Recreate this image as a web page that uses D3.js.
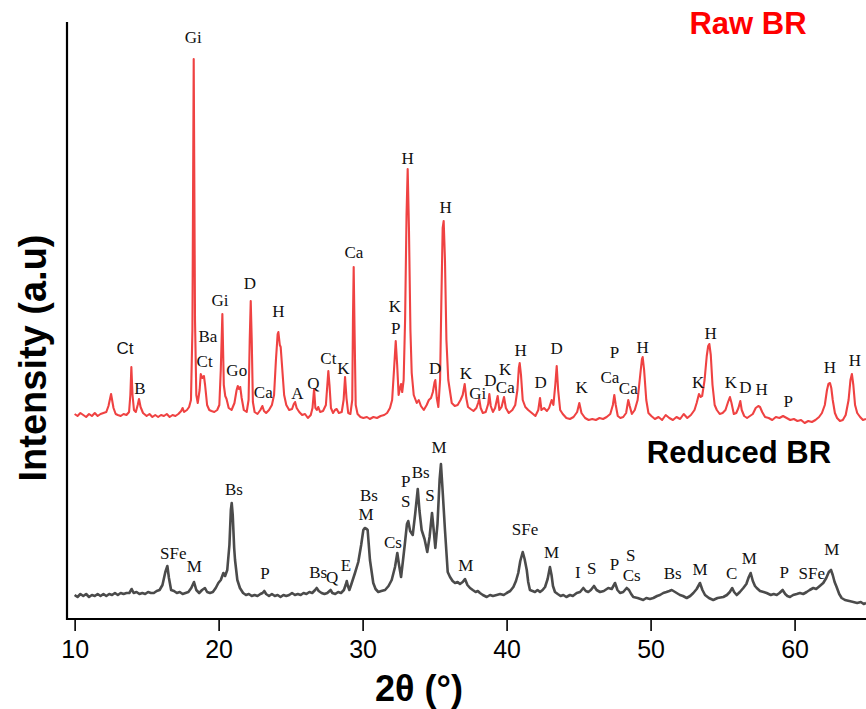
<!DOCTYPE html>
<html>
<head>
<meta charset="utf-8">
<script src="https://cdn.jsdelivr.net/npm/d3@7"></script>
<style>
  html, body { margin: 0; padding: 0; background: #fff; }
  svg { display: block; }
</style>
</head>
<body>
<svg id="chart" width="866" height="709"></svg>
<script>
// XRD patterns: [2θ (°), intensity (a.u.)]
const rawPattern = [
  [10.0,15],[10.2,13],[10.4,16],[10.6,14],[10.8,12],[11.0,15],[11.2,13],[11.4,16],[11.6,13],[11.8,15],
  [12.0,16],[12.2,17],[12.35,23],[12.53,35],[12.7,21],[12.85,15],[13.0,14],[13.2,13],[13.4,15],[13.6,14],
  [13.78,17],[13.87,34],[13.94,62],[14.02,34],[14.12,19],[14.25,17],[14.38,24],[14.47,30],[14.58,22],[14.75,16],
  [15.0,13],[15.2,15],[15.4,12],[15.6,14],[15.8,12],[16.0,14],[16.2,13],[16.4,15],[16.6,12],[16.8,14],
  [17.0,13],[17.2,15],[17.4,18],[17.5,21],[17.6,17],[17.8,19],[17.95,22],[18.08,29],[18.18,99],[18.27,370],
  [18.36,109],[18.45,34],[18.55,26],[18.68,39],[18.76,55],[18.86,51],[18.98,53],[19.06,44],[19.2,24],[19.35,19],
  [19.5,18],[19.7,17],[19.9,19],[20.05,24],[20.15,59],[20.26,115],[20.36,44],[20.46,33],[20.55,30],[20.7,21],
  [20.9,19],[21.1,26],[21.25,39],[21.33,43],[21.42,40],[21.5,42],[21.6,31],[21.75,19],[21.95,17],[22.08,29],
  [22.16,89],[22.23,128],[22.3,89],[22.38,27],[22.5,17],[22.7,15],[22.9,19],[23.04,23],[23.15,18],[23.3,16],
  [23.5,19],[23.7,24],[23.85,34],[23.98,69],[24.1,95],[24.15,97],[24.25,84],[24.31,82],[24.4,64],[24.55,34],
  [24.7,24],[24.9,19],[25.1,20],[25.22,25],[25.31,27],[25.42,21],[25.6,17],[25.8,14],[26.0,15],[26.2,11],
  [26.4,14],[26.52,21],[26.63,40],[26.72,21],[26.82,19],[26.92,22],[27.05,17],[27.25,18],[27.45,24],[27.55,44],
  [27.62,58],[27.7,44],[27.8,21],[27.95,16],[28.08,19],[28.2,20],[28.35,16],[28.55,17],[28.68,29],[28.78,52],
  [28.88,31],[29.0,16],[29.15,15],[29.28,29],[29.33,109],[29.38,162],[29.44,99],[29.52,24],[29.65,15],[29.85,12],
  [30.05,11],[30.3,12],[30.5,10],[30.75,12],[31.0,11],[31.25,13],[31.5,14],[31.7,16],[31.9,21],[32.05,29],
  [32.18,59],[32.3,88],[32.4,64],[32.5,34],[32.6,41],[32.67,45],[32.75,37],[32.85,49],[32.95,109],[33.05,214],
  [33.13,260],[33.22,199],[33.32,99],[33.41,56],[33.55,34],[33.76,26],[33.9,29],[34.05,23],[34.25,19],[34.45,24],
  [34.6,29],[34.75,31],[34.88,37],[35.0,47],[35.05,49],[35.15,31],[35.26,22],[35.38,49],[35.47,129],[35.56,201],
  [35.63,208],[35.72,169],[35.82,89],[35.95,49],[36.19,26],[36.4,23],[36.6,24],[36.8,29],[36.95,34],[37.09,45],
  [37.2,31],[37.32,22],[37.5,20],[37.7,18],[37.9,21],[38.02,26],[38.1,30],[38.2,21],[38.35,16],[38.55,17],
  [38.72,25],[38.8,35],[38.9,23],[39.05,17],[39.2,21],[39.38,33],[39.5,19],[39.65,22],[39.82,32],[39.95,21],
  [40.15,16],[40.4,19],[40.6,24],[40.75,39],[40.85,61],[40.91,66],[41.0,54],[41.12,29],[41.3,22],[41.5,19],
  [41.75,16],[42.0,13],[42.2,19],[42.32,31],[42.42,19],[42.6,21],[42.8,18],[42.95,21],[43.13,29],[43.25,24],
  [43.38,44],[43.48,63],[43.58,39],[43.72,19],[43.9,15],[44.15,11],[44.4,10],[44.65,12],[44.9,17],[45.05,26],
  [45.2,16],[45.45,11],[45.7,9],[45.95,10],[46.2,9],[46.45,11],[46.7,10],[46.95,12],[47.2,15],[47.38,24],
  [47.48,34],[47.58,24],[47.72,13],[47.9,11],[48.1,12],[48.3,16],[48.45,29],[48.55,23],[48.7,15],[48.9,19],
  [49.1,29],[49.28,54],[49.4,70],[49.45,72],[49.55,59],[49.7,29],[49.85,16],[50.05,13],[50.3,10],[50.55,12],
  [50.8,9],[51.05,14],[51.3,11],[51.55,9],[51.8,12],[52.05,10],[52.3,15],[52.55,11],[52.8,14],[53.05,19],
  [53.2,26],[53.36,35],[53.48,32],[53.58,33],[53.75,49],[53.9,73],[54.0,83],[54.08,85],[54.18,74],[54.3,44],
  [54.45,24],[54.6,19],[54.8,15],[55.0,16],[55.2,19],[55.38,27],[55.51,32],[55.62,26],[55.78,15],[55.95,16],
  [56.1,21],[56.23,28],[56.33,19],[56.5,13],[56.7,11],[56.9,13],[57.1,15],[57.3,21],[57.48,23],[57.6,22],
  [57.75,17],[57.95,12],[58.2,11],[58.45,9],[58.7,12],[58.95,11],[59.2,13],[59.45,11],[59.7,9],[59.95,10],
  [60.2,8],[60.45,9],[60.7,6],[60.95,8],[61.2,7],[61.45,9],[61.7,12],[61.9,16],[62.1,24],[62.25,39],
  [62.35,45],[62.46,46],[62.55,41],[62.65,29],[62.8,16],[62.95,11],[63.15,8],[63.35,9],[63.55,14],[63.75,29],
  [63.88,49],[63.98,55],[64.08,44],[64.2,24],[64.35,16],[64.55,12],[64.75,9],[64.96,10]
];

const reducedPattern = [
  [10.0,24],[10.2,22],[10.4,25],[10.6,23],[10.8,25],[11.0,22],[11.2,24],[11.4,23],[11.6,25],[11.8,23],
  [12.0,25],[12.2,23],[12.4,25],[12.6,24],[12.8,26],[13.0,24],[13.2,26],[13.4,25],[13.6,26],[13.8,26],
  [13.96,30],[14.1,26],[14.3,27],[14.5,25],[14.7,26],[14.9,25],[15.1,27],[15.3,26],[15.5,26],[15.7,28],
  [15.9,29],[16.1,34],[16.3,47],[16.44,53],[16.55,41],[16.7,29],[16.9,28],[17.1,26],[17.3,27],[17.5,25],
  [17.7,26],[17.9,27],[18.1,31],[18.29,37],[18.45,29],[18.65,26],[18.85,29],[19.05,31],[19.2,27],[19.4,26],
  [19.6,27],[19.8,31],[19.98,36],[20.15,39],[20.33,46],[20.45,43],[20.6,49],[20.75,74],[20.85,109],[20.91,116],
  [20.98,104],[21.08,71],[21.14,59],[21.3,39],[21.48,31],[21.7,26],[21.9,24],[22.1,25],[22.3,23],[22.5,24],
  [22.7,23],[22.9,25],[23.05,26],[23.17,28],[23.3,25],[23.5,23],[23.7,25],[23.9,23],[24.1,24],[24.3,22],
  [24.5,24],[24.7,23],[24.9,24],[25.1,26],[25.3,24],[25.5,25],[25.7,24],[25.9,26],[26.1,25],[26.3,27],
  [26.5,26],[26.7,29],[26.81,31],[26.95,28],[27.15,26],[27.35,25],[27.55,26],[27.7,28],[27.78,29],[27.9,26],
  [28.1,25],[28.3,27],[28.5,26],[28.7,29],[28.82,34],[28.9,38],[28.98,33],[29.08,29],[29.2,34],[29.47,46],
  [29.7,57],[29.9,74],[30.05,89],[30.15,91],[30.28,90],[30.35,89],[30.51,59],[30.74,36],[30.9,30],[31.09,27],
  [31.3,28],[31.56,29],[31.8,33],[32.02,39],[32.25,52],[32.41,66],[32.52,55],[32.67,42],[32.8,58],[32.94,76],
  [33.08,95],[33.17,98],[33.3,88],[33.48,84],[33.65,105],[33.83,130],[33.95,108],[34.1,89],[34.3,80],[34.49,67],
  [34.65,82],[34.82,106],[34.93,90],[35.05,71],[35.2,95],[35.35,140],[35.44,155],[35.55,130],[35.72,89],[35.91,47],
  [36.07,42],[36.25,38],[36.42,36],[36.6,37],[36.76,35],[36.95,37],[37.11,40],[37.28,34],[37.46,31],[37.65,29],
  [37.85,27],[38.0,28],[38.15,26],[38.35,24],[38.62,22],[38.85,24],[39.05,23],[39.31,24],[39.55,25],[39.8,24],
  [40.01,26],[40.25,28],[40.47,32],[40.65,38],[40.81,46],[40.95,58],[41.12,67],[41.25,60],[41.4,49],[41.5,37],
  [41.62,29],[41.8,28],[41.97,27],[42.15,29],[42.32,27],[42.5,29],[42.67,32],[42.85,40],[43.01,52],[43.12,44],
  [43.22,33],[43.36,27],[43.55,25],[43.75,23],[43.94,24],[44.15,22],[44.4,24],[44.6,23],[44.87,26],[45.1,27],
  [45.33,31],[45.5,28],[45.67,27],[45.85,29],[46.07,33],[46.25,29],[46.49,27],[46.75,28],[47.06,31],[47.3,30],
  [47.53,36],[47.7,29],[47.88,26],[48.1,27],[48.34,31],[48.5,29],[48.65,25],[48.8,22],[49.1,21],[49.3,20],
  [49.49,19],[49.7,21],[49.95,20],[50.19,21],[50.45,23],[50.65,24],[50.88,26],[51.1,27],[51.3,28],[51.47,29],
  [51.7,27],[52.04,24],[52.25,23],[52.51,21],[52.75,23],[52.97,26],[53.2,30],[53.43,36],[53.6,29],[53.78,24],
  [54.05,21],[54.35,19],[54.65,21],[55.05,22],[55.3,24],[55.5,27],[55.67,31],[55.8,27],[55.98,24],[56.2,27],
  [56.44,31],[56.65,35],[56.82,42],[56.95,46],[57.1,38],[57.25,33],[57.37,31],[57.6,28],[57.85,27],[58.06,26],
  [58.35,24],[58.55,25],[58.76,24],[58.95,26],[59.17,29],[59.35,25],[59.5,23],[59.68,22],[59.9,24],[60.15,25],
  [60.37,26],[60.6,25],[60.84,27],[61.05,29],[61.3,31],[61.5,30],[61.75,33],[61.99,36],[62.2,41],[62.38,47],
  [62.53,49],[62.65,44],[62.78,37],[62.92,32],[63.1,25],[63.27,21],[63.5,19],[63.8,18],[64.08,17],[64.35,16],
  [64.6,17],[64.8,15],[64.96,16]
];

// Phase labels: [text, 2θ, intensity level]
const rawPeakLabels = [
  ["Gi",18.24,392],["B",14.54,41],["Ba",19.26,93],["Ct",19.03,68],["Gi",20.1,129],["Go",21.26,59],
  ["D",22.18,146],["Ca",23.1,37],["H",24.15,118],["A",25.47,36],["Q",26.58,46],["Ct",27.62,71],
  ["K",28.66,61],["Ca",29.39,177],["K",32.25,123],["P",32.3,101],["H",33.13,271],["H",35.77,222],
  ["D",35.03,61],["K",37.18,56],["Gi",37.99,36],["D",38.87,49],["K",39.89,60],["Ca",39.91,42],
  ["H",40.98,79],["D",42.37,47],["D",43.48,81],["K",45.22,42],["P",47.5,77],["Ca",47.18,52],
  ["Ca",48.45,41],["H",49.45,82],["K",53.31,47],["H",54.17,96],["K",55.58,47],["D",56.58,42],
  ["H",57.72,40],["P",59.56,28],["H",62.46,62],["H",64.19,69]
];
const rawSansLabels = [["Ct",13.5,81]];

const reducedPeakLabels = [
  ["SFe",16.85,66],["M",18.31,53],["Bs",21.07,130],["P",23.22,46],["Bs",26.92,47],["Q",27.88,42],
  ["E",28.85,54],["Bs",30.44,124],["M",30.24,105],["Cs",32.11,77],["P",32.99,138],["S",32.99,118],
  ["Bs",34.03,147],["S",34.68,124],["M",35.31,172],["M",37.16,54],["SFe",41.28,90],["M",43.13,67],
  ["I",44.94,47],["S",45.91,51],["P",47.5,55],["S",48.62,64],["Cs",48.69,44],["Bs",51.53,46],
  ["M",53.43,50],["C",55.63,46],["M",56.85,61],["P",59.28,47],["SFe",61.19,46],["M",62.58,70]
];

const xTicks = [10, 20, 30, 40, 50, 60];
const seriesNames = ["Raw BR", "Reduced BR"];

// Vertical stacking offset of the raw pattern above the reduced one
const RAW_OFFSET = 190;

const svg = d3.select("#chart");
const plot = { left: 67, right: 866, top: 22, bottom: 619 };

const x = d3.scaleLinear().domain([9.47, 64.96]).range([plot.left, plot.right]);
const y = d3.scaleLinear().domain([0, 597]).range([plot.bottom, plot.top]);

const lineRaw = d3.line().x(d => x(d[0])).y(d => y(d[1] + RAW_OFFSET));
const lineRed = d3.line().x(d => x(d[0])).y(d => y(d[1]));

svg.append("path").datum(reducedPattern)
  .attr("d", lineRed).attr("fill", "none")
  .attr("stroke", "#4b4b4b").attr("stroke-width", 2.6).attr("stroke-linejoin", "round");

svg.append("path").datum(rawPattern)
  .attr("d", lineRaw).attr("fill", "none")
  .attr("stroke", "#ef4242").attr("stroke-width", 2.1).attr("stroke-linejoin", "round");

// Peak labels
const serif = "'Liberation Serif', 'Times New Roman', serif";
const sans = "'Liberation Sans', Arial, sans-serif";
const narrow = "'Liberation Sans Narrow', 'Arial Narrow', 'Liberation Sans', sans-serif";

function drawLabels(list, offset, family) {
  svg.append("g").selectAll("text").data(list).join("text")
    .attr("x", d => x(d[1]))
    .attr("y", d => y(d[2] + offset))
    .attr("dy", "0.35em")
    .attr("text-anchor", "middle")
    .attr("font-family", family)
    .attr("font-size", 17)
    .attr("fill", "#111")
    .text(d => d[0]);
}
drawLabels(rawPeakLabels, RAW_OFFSET, serif);
drawLabels(rawSansLabels, RAW_OFFSET, sans);
drawLabels(reducedPeakLabels, 0, serif);

// Axes
const xAxis = d3.axisBottom(x).tickValues(xTicks).tickSize(12).tickPadding(9).tickFormat(d3.format("d"));
const gx = svg.append("g").attr("transform", `translate(0,${plot.bottom})`).call(xAxis);
gx.select(".domain").attr("stroke", "#000").attr("stroke-width", 2.2)
  .attr("d", `M${plot.left},0H${plot.right}`);
gx.selectAll(".tick line").attr("stroke", "#000").attr("stroke-width", 1.6);
gx.selectAll(".tick text").attr("font-family", narrow).attr("font-size", 25).attr("fill", "#000");

svg.append("line")
  .attr("x1", plot.left).attr("x2", plot.left)
  .attr("y1", plot.top).attr("y2", plot.bottom + 1)
  .attr("stroke", "#000").attr("stroke-width", 2.2);

// Axis titles
svg.append("text")
  .attr("x", 419).attr("y", 701)
  .attr("text-anchor", "middle")
  .attr("font-family", sans).attr("font-weight", "bold").attr("font-size", 36)
  .text("2θ (°)");

svg.append("text")
  .attr("transform", "translate(33,358) rotate(-90)")
  .attr("text-anchor", "middle")
  .attr("font-family", sans).attr("font-weight", "bold").attr("font-size", 38)
  .attr("dy", "0.35em")
  .text("Intensity (a.u)");

// Series names
svg.append("text")
  .attr("x", 748).attr("y", 34)
  .attr("text-anchor", "middle")
  .attr("font-family", sans).attr("font-weight", "bold").attr("font-size", 31)
  .attr("fill", "#ff0000")
  .text(seriesNames[0]);

svg.append("text")
  .attr("x", 739).attr("y", 463)
  .attr("text-anchor", "middle")
  .attr("font-family", sans).attr("font-weight", "bold").attr("font-size", 31)
  .attr("fill", "#000")
  .text(seriesNames[1]);
</script>
</body>
</html>
